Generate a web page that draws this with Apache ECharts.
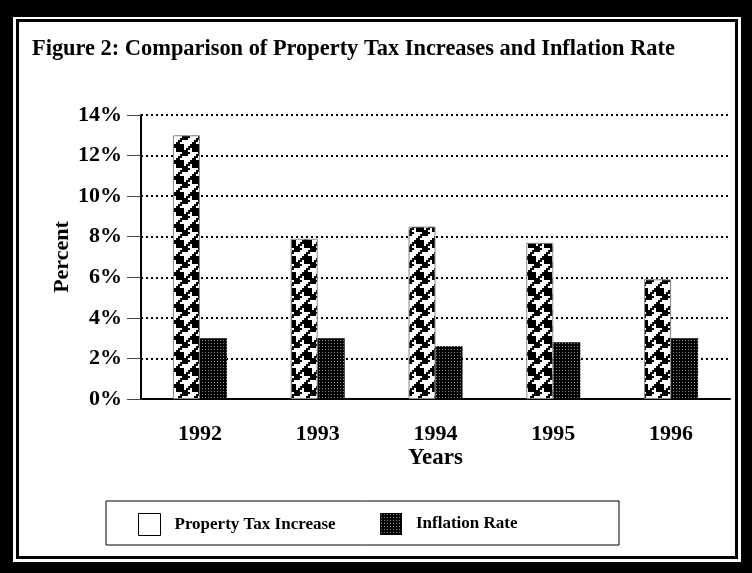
<!DOCTYPE html>
<html><head><meta charset="utf-8">
<script src="https://cdn.jsdelivr.net/npm/echarts@6/dist/echarts.min.js"></script>
<style>html,body{margin:0;padding:0;background:#000}#c{width:752px;height:573px}</style>
</head><body><div id="c"></div>
<script>
var years = ['1992', '1993', '1994', '1995', '1996'];
var propertyTax = [13.0, 7.9, 8.5, 7.7, 5.9];
var inflation = [3.0, 3.0, 2.6, 2.8, 3.0];
var yTicks = [0, 2, 4, 6, 8, 10, 12, 14];
var seriesNames = ['Property Tax Increase', 'Inflation Rate'];

function taxPattern() {
  var grid = [
    '11110001',
    '11110011',
    '11110110',
    '11111100',
    '00011110',
    '00111100',
    '01100000',
    '11000000'
  ];
  var c = document.createElement('canvas');
  var s = 2;
  c.width = 8 * s; c.height = 8 * s;
  var g = c.getContext('2d');
  g.fillStyle = '#fff'; g.fillRect(0, 0, c.width, c.height);
  g.fillStyle = '#000';
  for (var r = 0; r < 8; r++) for (var k = 0; k < 8; k++) {
    if (grid[r][k] === '1') g.fillRect(k * s, r * s, s, s);
  }
  return c;
}
function inflPattern() {
  var c = document.createElement('canvas');
  c.width = 3; c.height = 3;
  var g = c.getContext('2d');
  g.fillStyle = '#000'; g.fillRect(0, 0, 3, 3);
  g.fillStyle = '#8a8a8a'; g.fillRect(1, 1, 1, 1);
  return c;
}
var serif = '"Liberation Serif", "Times New Roman", serif';
var chart = echarts.init(document.getElementById('c'));
chart.setOption({
  backgroundColor: '#000',
  animation: false,
  graphic: [
    {type: 'rect', z: -100, shape: {x: 13, y: 17, width: 728, height: 545}, style: {fill: '#fff'}},
    {type: 'rect', z: -99, shape: {x: 16, y: 19, width: 722, height: 540}, style: {fill: '#000'}},
    {type: 'rect', z: -98, shape: {x: 19, y: 22, width: 716, height: 534}, style: {fill: '#fff'}},
    {type: 'rect', z: -97, shape: {x: 106, y: 501, width: 513, height: 44}, style: {fill: '#fff', stroke: '#000', lineWidth: 1}}
  ],
  title: {
    text: 'Figure 2: Comparison of Property Tax Increases and Inflation Rate',
    left: 27, top: 33,
    textStyle: {fontFamily: serif, fontWeight: 'bold', fontSize: 22.4, color: '#000'}
  },
  legend: [
    {data: [{name: seriesNames[0], itemStyle: {color: '#fff', borderColor: '#000', borderWidth: 1}}],
     left: 133, top: 508, itemWidth: 22, itemHeight: 22, icon: 'rect', selectedMode: false,
     textStyle: {fontFamily: serif, fontWeight: 'bold', fontSize: 17, color: '#000', padding: [0, 0, 0, 9]}},
    {data: [seriesNames[1]],
     left: 375, top: 508, itemWidth: 22, itemHeight: 22, icon: 'rect', selectedMode: false,
     textStyle: {fontFamily: serif, fontWeight: 'bold', fontSize: 17, color: '#000', padding: [0, 0, 0, 9]}}
  ],
  grid: {left: 141, right: 22, top: 115, bottom: 174, containLabel: false},
  xAxis: {
    type: 'category', data: years,
    name: 'Years', nameLocation: 'middle', nameGap: 48,
    nameTextStyle: {fontFamily: serif, fontWeight: 'bold', fontSize: 23, color: '#000'},
    axisLine: {lineStyle: {color: '#000', width: 2}},
    axisTick: {alignWithLabel: true, length: 12, lineStyle: {color: '#555', width: 1}},
    axisLabel: {margin: 24, fontFamily: serif, fontWeight: 'bold', fontSize: 22, color: '#000'}
  },
  yAxis: {
    type: 'value', min: 0, max: 14, interval: 2,
    name: 'Percent', nameLocation: 'middle', nameGap: 68, nameRotate: 90, nameMoveOverlap: false,
    nameTextStyle: {fontFamily: serif, fontWeight: 'bold', fontSize: 22, color: '#000'},
    axisLine: {show: true, lineStyle: {color: '#000', width: 2}},
    axisTick: {show: true, length: 14, lineStyle: {color: '#444', width: 1}},
    axisLabel: {margin: 19, fontFamily: serif, fontWeight: 'bold', fontSize: 22, color: '#000',
      formatter: function (v) { return yTicks.indexOf(v) >= 0 ? v + '%' : ''; }},
    splitLine: {show: true, lineStyle: {color: '#000', width: 2, type: [2, 3]}}
  },
  series: [
    {name: seriesNames[0], type: 'bar', data: propertyTax, barWidth: 27, barGap: '0%',
     itemStyle: {color: {image: taxPattern(), repeat: 'repeat'}, borderColor: '#888', borderWidth: 1}},
    {name: seriesNames[1], type: 'bar', data: inflation, barWidth: 27,
     itemStyle: {color: {image: inflPattern(), repeat: 'repeat'}}}
  ]
});
</script></body></html>
